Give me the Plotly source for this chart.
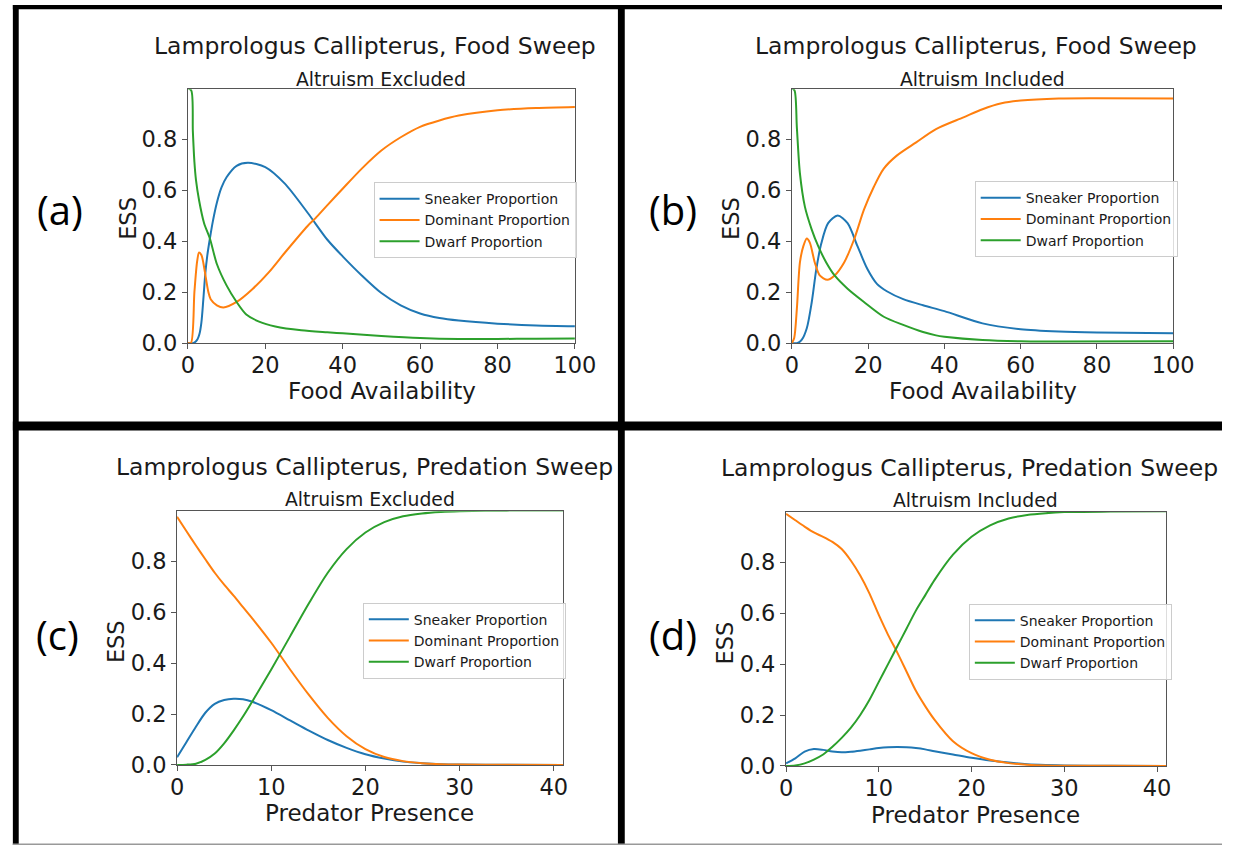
import plotly.graph_objects as go

W, H = 1243, 858

# ---------------- data ----------------
# (a) Food sweep, altruism excluded
a_sneaker_x = [0, 1.5, 2.5, 3.0, 3.5, 4.0, 4.5, 5.0, 5.7, 6.5, 7.5, 8.7, 10, 12.6, 15.5, 20, 25, 31, 36, 40, 45, 50, 55, 60, 65, 70, 80, 90, 100]
a_sneaker_y = [0, 0, 0.015, 0.035, 0.08, 0.17, 0.27, 0.34, 0.41, 0.48, 0.55, 0.61, 0.65, 0.695, 0.707, 0.69, 0.626, 0.51, 0.406, 0.34, 0.264, 0.196, 0.148, 0.116, 0.098, 0.088, 0.076, 0.069, 0.066]
a_dominant_x = [0, 0.8, 1.7, 2.4, 2.9, 3.5, 4.0, 4.6, 5.3, 5.9, 7.5, 9.2, 12.6, 16.8, 20.9, 25.1, 31, 33, 36, 40, 45, 50, 55, 60, 65, 70, 80, 90, 100]
a_dominant_y = [0, 0.0, 0.2, 0.32, 0.355, 0.345, 0.315, 0.26, 0.2, 0.172, 0.148, 0.139, 0.161, 0.213, 0.277, 0.355, 0.46, 0.49, 0.54, 0.605, 0.685, 0.755, 0.807, 0.848, 0.873, 0.892, 0.913, 0.922, 0.926]
a_dwarf_x = [0, 0.9, 1.3, 1.7, 2.1, 2.9, 4.2, 5.7, 7.5, 10, 12.6, 15.1, 18.4, 22.6, 29.3, 36, 40, 50, 60, 70, 80, 90, 100]
a_dwarf_y = [1.0, 0.99, 0.83, 0.71, 0.64, 0.56, 0.47, 0.41, 0.31, 0.226, 0.161, 0.112, 0.084, 0.065, 0.05, 0.042, 0.038, 0.028, 0.02, 0.016, 0.016, 0.017, 0.018]

# (b) Food sweep, altruism included
b_sneaker_x = [0, 1.5, 2.6, 3.9, 5.2, 6.4, 7.7, 9.5, 12, 14.6, 17.2, 19.8, 22.3, 24.9, 29.2, 34.4, 40, 50, 60, 70, 80, 100]
b_sneaker_y = [0, 0, 0.013, 0.058, 0.16, 0.29, 0.39, 0.47, 0.5, 0.47, 0.38, 0.29, 0.232, 0.203, 0.172, 0.148, 0.125, 0.077, 0.054, 0.045, 0.041, 0.038]
b_dominant_x = [0, 0.6, 1.3, 2.1, 3.0, 3.9, 4.7, 6.0, 7.3, 9.3, 11.2, 13.7, 16.3, 18.9, 21.5, 24.1, 27.5, 32.6, 37.8, 45, 50, 55, 60, 70, 80, 100]
b_dominant_y = [0, 0.02, 0.135, 0.316, 0.38, 0.41, 0.394, 0.316, 0.265, 0.248, 0.265, 0.316, 0.406, 0.523, 0.613, 0.684, 0.735, 0.787, 0.839, 0.885, 0.917, 0.94, 0.951, 0.959, 0.96, 0.959]
b_dwarf_x = [0, 0.7, 1.3, 2.1, 3.4, 5.2, 6.9, 9, 11.2, 14.6, 18.9, 24.1, 29.2, 34.4, 37.8, 40, 50, 60, 70, 100]
b_dwarf_y = [1.0, 0.99, 0.845, 0.665, 0.535, 0.445, 0.38, 0.316, 0.265, 0.213, 0.161, 0.103, 0.071, 0.043, 0.03, 0.025, 0.012, 0.007, 0.006, 0.007]

# (c) Predation sweep, altruism excluded
c_x = [0, 1, 2, 3, 4, 5, 6, 7, 8, 10, 12, 14, 16, 18, 20, 22, 24, 26, 28, 30, 35, 41]
c_sneaker = [0.03, 0.09, 0.15, 0.205, 0.24, 0.255, 0.26, 0.258, 0.248, 0.215, 0.175, 0.135, 0.098, 0.067, 0.042, 0.025, 0.013, 0.007, 0.003, 0.0015, 0.0003, 0]
c_dominant = [0.975, 0.918, 0.862, 0.808, 0.755, 0.708, 0.665, 0.62, 0.575, 0.48, 0.375, 0.275, 0.185, 0.113, 0.062, 0.031, 0.015, 0.007, 0.003, 0.0015, 0.0003, 0]
c_dwarf = [0, 0.001, 0.005, 0.02, 0.045, 0.085, 0.135, 0.19, 0.25, 0.375, 0.505, 0.635, 0.755, 0.848, 0.913, 0.954, 0.977, 0.988, 0.994, 0.997, 0.999, 1.0]

# (d) Predation sweep, altruism included
d_x = [0, 1, 2, 3, 4, 5, 6, 7, 8, 9, 10, 11, 12, 13, 14, 15, 16, 18, 20, 22, 24, 26, 28, 30, 35, 41]
d_sneaker = [0.01, 0.03, 0.056, 0.066, 0.063, 0.057, 0.054, 0.056, 0.06, 0.065, 0.07, 0.073, 0.074, 0.073, 0.07, 0.065, 0.058, 0.045, 0.032, 0.021, 0.013, 0.007, 0.004, 0.002, 0.0005, 0]
d_dominant = [0.99, 0.965, 0.94, 0.917, 0.9, 0.88, 0.852, 0.806, 0.748, 0.677, 0.593, 0.515, 0.445, 0.37, 0.295, 0.235, 0.182, 0.097, 0.05, 0.024, 0.011, 0.005, 0.002, 0.001, 0.0002, 0]
d_dwarf = [0, 0.002, 0.01, 0.025, 0.045, 0.075, 0.11, 0.15, 0.2, 0.26, 0.33, 0.40, 0.47, 0.54, 0.61, 0.67, 0.73, 0.83, 0.9, 0.945, 0.972, 0.986, 0.993, 0.997, 0.999, 1.0]

series_names = ["Sneaker Proportion", "Dominant Proportion", "Dwarf Proportion"]
y_ticks = [0, 0.2, 0.4, 0.6, 0.8]
y_tick_labels = ["0.0", "0.2", "0.4", "0.6", "0.8"]
food_ticks = [0, 20, 40, 60, 80, 100]
pred_ticks = [0, 10, 20, 30, 40]

# ---------------- style ----------------
COLORS = ["#1f77b4", "#ff7f0e", "#2ca02c"]
FONT = "DejaVu Sans"
TXT = "#1a1a1a"
SPINE = "#555555"


def px(x):
    return x / W


def py(y):
    return 1 - y / H


panels = [
    dict(ax="", leg="legend", dom=(185, 581, 90.7, 348.3), xr=[0, 100], yr=[0, 0.995], xt=food_ticks,
         series=[(a_sneaker_x, a_sneaker_y), (a_dominant_x, a_dominant_y), (a_dwarf_x, a_dwarf_y)],
         legpos=(375, 185)),
    dict(ax="2", leg="legend2", dom=(803, 1193, 90.7, 348.3), xr=[0, 100], yr=[0, 0.995], xt=food_ticks,
         series=[(b_sneaker_x, b_sneaker_y), (b_dominant_x, b_dominant_y), (b_dwarf_x, b_dwarf_y)],
         legpos=(990, 184)),
    dict(ax="3", leg="legend3", dom=(174, 569, 519, 776.7), xr=[0, 41], yr=[0, 0.997], xt=pred_ticks,
         series=[(c_x, c_sneaker), (c_x, c_dominant), (c_x, c_dwarf)],
         legpos=(364, 612)),
    dict(ax="4", leg="legend4", dom=(797, 1186, 520, 777.7), xr=[0, 41], yr=[0, 0.997], xt=pred_ticks,
         series=[(d_x, d_sneaker), (d_x, d_dominant), (d_x, d_dwarf)],
         legpos=(984, 613)),
]

fig = go.Figure()
layout = dict(
    width=W, height=H, margin=dict(l=0, r=0, t=0, b=0),
    paper_bgcolor="white", plot_bgcolor="white",
    font=dict(family=FONT, color=TXT), showlegend=True,
)

for p in panels:
    axn = p["ax"]
    for (xs, ys), name, col in zip(p["series"], series_names, COLORS):
        fig.add_trace(go.Scatter(
            x=xs, y=ys, mode="lines", name=name,
            line=dict(color=col, width=2, shape="spline", smoothing=0.8),
            xaxis="x" + axn, yaxis="y" + axn, legend=p["leg"],
            legendgroup=p["leg"] + name,
        ))
    x0, x1, yt, yb = p["dom"]
    common = dict(showline=True, mirror=True, linecolor=SPINE, linewidth=1.2,
                  ticks="outside", ticklen=5, tickwidth=1.2, tickcolor=SPINE,
                  showgrid=False, zeroline=False, tickfont=dict(size=22.5, family=FONT, color=TXT))
    layout["xaxis" + axn] = dict(domain=[px(x0), px(x1)], range=p["xr"], tickvals=p["xt"],
                                 anchor="y" + axn, ticklabelstandoff=-3, **common)
    layout["yaxis" + axn] = dict(domain=[py(yb), py(yt)], range=p["yr"], tickvals=y_ticks,
                                 ticktext=y_tick_labels, anchor="x" + axn, **common)
    lx, ly = p["legpos"]
    layout[p["leg"]] = dict(x=px(lx), y=py(ly), xanchor="left", yanchor="top",
                            bgcolor="rgba(255,255,255,0.8)", bordercolor="#cccccc", borderwidth=1,
                            font=dict(size=14, family=FONT, color=TXT), tracegroupgap=0,
                            itemwidth=40)

fig.update_layout(**layout)

# ---------------- text ----------------
texts = [
    ("Lamprologus Callipterus, Food Sweep", 376, 47, 23.5, 0),
    ("Altruism Excluded", 383, 80.5, 18.8, 0),
    ("Food Availability", 383.5, 397, 23, 0),
    ("ESS", 123, 222, 22.5, -90),
    ("Lamprologus Callipterus, Food Sweep", 991, 47, 23.5, 0),
    ("Altruism Included", 998, 80.5, 18.8, 0),
    ("Food Availability", 998, 397, 23, 0),
    ("ESS", 740, 222, 22.5, -90),
    ("Lamprologus Callipterus, Predation Sweep", 366, 474, 23.5, 0),
    ("Altruism Excluded", 371, 507, 18.8, 0),
    ("Predator Presence", 371, 826, 23, 0),
    ("ESS", 111.5, 651, 22.5, -90),
    ("Lamprologus Callipterus, Predation Sweep", 985, 475, 23.5, 0),
    ("Altruism Included", 991, 508, 18.8, 0),
    ("Predator Presence", 991, 828, 23, 0),
    ("ESS", 735, 653, 22.5, -90),
]
for t, x, y, s, ang in texts:
    fig.add_annotation(text=t, x=px(x), y=py(y), xref="paper", yref="paper",
                       xanchor="center", yanchor="middle", showarrow=False,
                       textangle=ang, font=dict(size=s, family=FONT, color=TXT))

labels = [("(a)", 54, 213), ("(b)", 681, 213), ("(c)", 52, 644), ("(d)", 681, 644)]
for t, x, y in labels:
    fig.add_annotation(text=t, x=px(x), y=py(y), xref="paper", yref="paper",
                       xanchor="center", yanchor="middle", showarrow=False,
                       font=dict(size=40, family="Open Sans", color="black"))


# ---------------- frame borders ----------------
def rect(x0, y0, x1, y1, color="black"):
    fig.add_shape(type="rect", xref="paper", yref="paper",
                  x0=px(x0), x1=px(x1), y0=py(y1), y1=py(y0),
                  line=dict(width=0), fillcolor=color, layer="above")


rect(6, 5, W, 9.5)          # top
rect(6, 5, 12, H)           # left
rect(625, 5, 632, H)        # middle vertical
rect(6, 428, W, 437)        # middle horizontal
rect(6, 856.5, W, 858, "#999999")  # bottom thin line

fig.write_html("out.html")
